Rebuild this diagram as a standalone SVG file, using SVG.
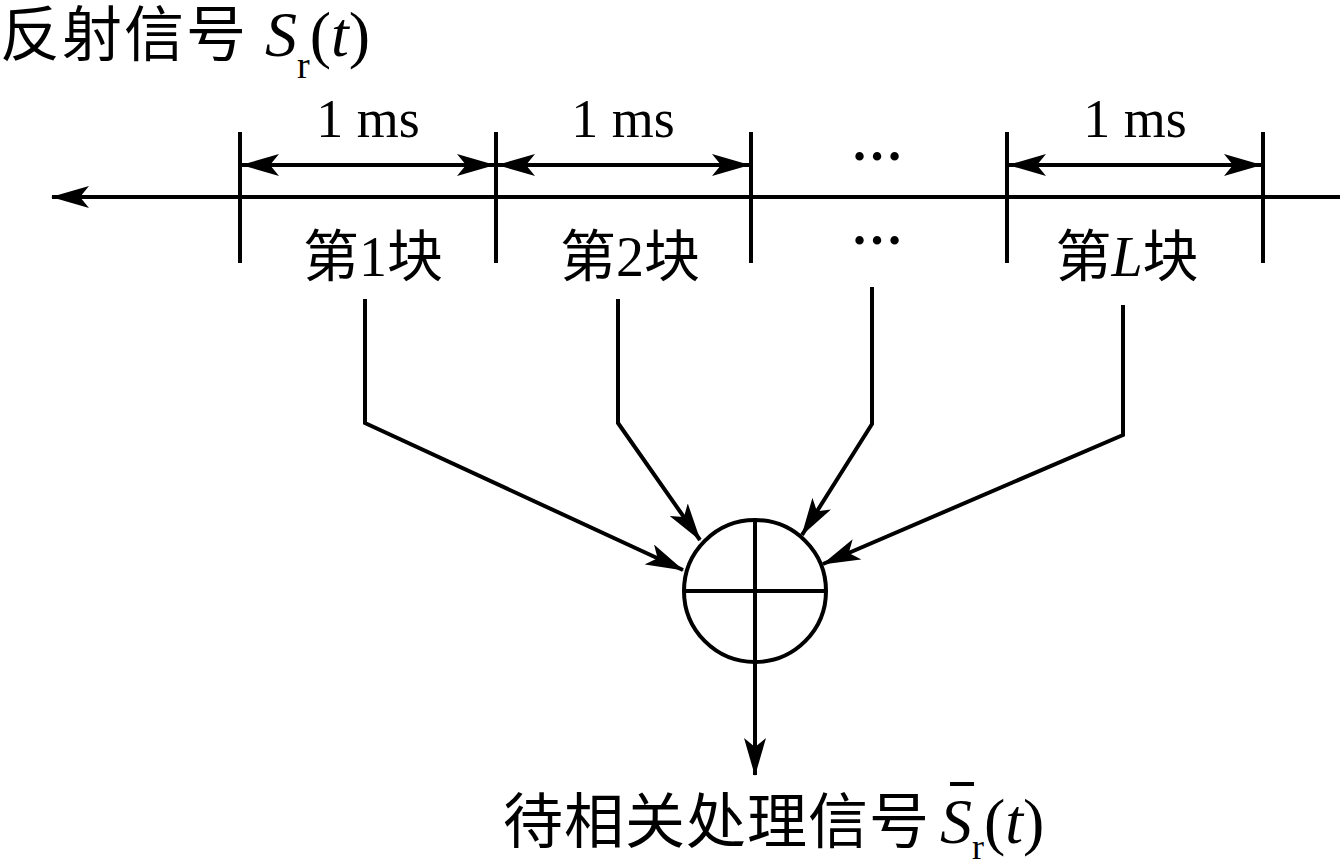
<svg xmlns="http://www.w3.org/2000/svg" width="1340" height="868" viewBox="0 0 1340 868">
<defs>
<marker id="ah" viewBox="0 0 38 22" refX="37" refY="11" markerWidth="38" markerHeight="22" markerUnits="userSpaceOnUse" orient="auto-start-reverse">
<path d="M0,0 L38,11 L0,22 L9,11 Z" fill="#000"/>
</marker>
</defs>
<style>
.ln{stroke:#000;stroke-width:4;fill:none}
.t{font-family:"Liberation Serif","Noto Sans CJK SC",serif;fill:#000}
.cjk{font-family:"Liberation Serif","Noto Sans CJK SC",serif;font-size:60px;fill:#000}
.ms{font-size:54px}
.blk{font-size:56px}
</style>
<rect width="1340" height="868" fill="#fff"/>
<g id="title">
<text class="cjk" x="0" y="56" letter-spacing="2">反射信号 <tspan font-style="italic" font-size="64" letter-spacing="0">S</tspan><tspan font-size="38" dy="22" letter-spacing="0">r</tspan><tspan font-size="64" dy="-22" letter-spacing="0">(</tspan><tspan font-size="64" font-style="italic" letter-spacing="0">t</tspan><tspan font-size="64" letter-spacing="0">)</tspan></text>
</g>
<g id="axis">
<line class="ln" x1="1340" y1="197" x2="52" y2="197" marker-end="url(#ah)"/>
<line class="ln" x1="240" y1="132" x2="240" y2="263"/>
<line class="ln" x1="496" y1="132" x2="496" y2="263"/>
<line class="ln" x1="751" y1="132" x2="751" y2="263"/>
<line class="ln" x1="1007" y1="132" x2="1007" y2="263"/>
<line class="ln" x1="1263" y1="132" x2="1263" y2="263"/>
</g>
<g id="dims">
<line class="ln" x1="242" y1="165" x2="494" y2="165" marker-start="url(#ah)" marker-end="url(#ah)"/>
<line class="ln" x1="498" y1="165" x2="749" y2="165" marker-start="url(#ah)" marker-end="url(#ah)"/>
<line class="ln" x1="1009" y1="165" x2="1261" y2="165" marker-start="url(#ah)" marker-end="url(#ah)"/>
<text class="t ms" x="368" y="137" text-anchor="middle">1 ms</text>
<text class="t ms" x="623" y="137" text-anchor="middle">1 ms</text>
<text class="t ms" x="1135" y="137" text-anchor="middle">1 ms</text>
<text class="t" x="877" y="160" font-size="52" font-weight="bold" text-anchor="middle">…</text>
</g>
<g id="block1"><text class="t blk" x="373" y="276" text-anchor="middle">第1块</text></g>
<g id="block2"><text class="t blk" x="630" y="276" text-anchor="middle">第2块</text></g>
<g id="blockdots"><text class="t" x="877" y="244" font-size="52" font-weight="bold" text-anchor="middle">…</text></g>
<g id="blockL"><text class="t blk" x="1127" y="276" text-anchor="middle">第<tspan font-style="italic">L</tspan>块</text></g>
<g id="connectors">
<polyline class="ln" points="365,299 365,423 683,570" marker-end="url(#ah)"/>
<polyline class="ln" points="618,299 618,423 700,540" marker-end="url(#ah)"/>
<polyline class="ln" points="872,287 872,424 802,535" marker-end="url(#ah)"/>
<polyline class="ln" points="1123,305 1123,435 823,564" marker-end="url(#ah)"/>
<line class="ln" x1="755" y1="662" x2="755" y2="775" marker-end="url(#ah)"/>
</g>
<g id="adder">
<circle class="ln" cx="755" cy="591" r="71"/>
<line class="ln" x1="684" y1="591" x2="826" y2="591"/>
<line class="ln" x1="755" y1="520" x2="755" y2="662"/>
</g>
<g id="output">
<text class="cjk" x="503" y="843" letter-spacing="1">待相关处理信号<tspan font-style="italic" font-size="64" dx="10" letter-spacing="0">S</tspan><tspan font-size="36" dy="16" letter-spacing="0">r</tspan><tspan font-size="64" dy="-16" letter-spacing="0">(</tspan><tspan font-size="64" font-style="italic" letter-spacing="0">t</tspan><tspan font-size="64" letter-spacing="0">)</tspan></text>
<line x1="950" y1="784" x2="974" y2="784" stroke="#000" stroke-width="4"/>
</g>
</svg>
